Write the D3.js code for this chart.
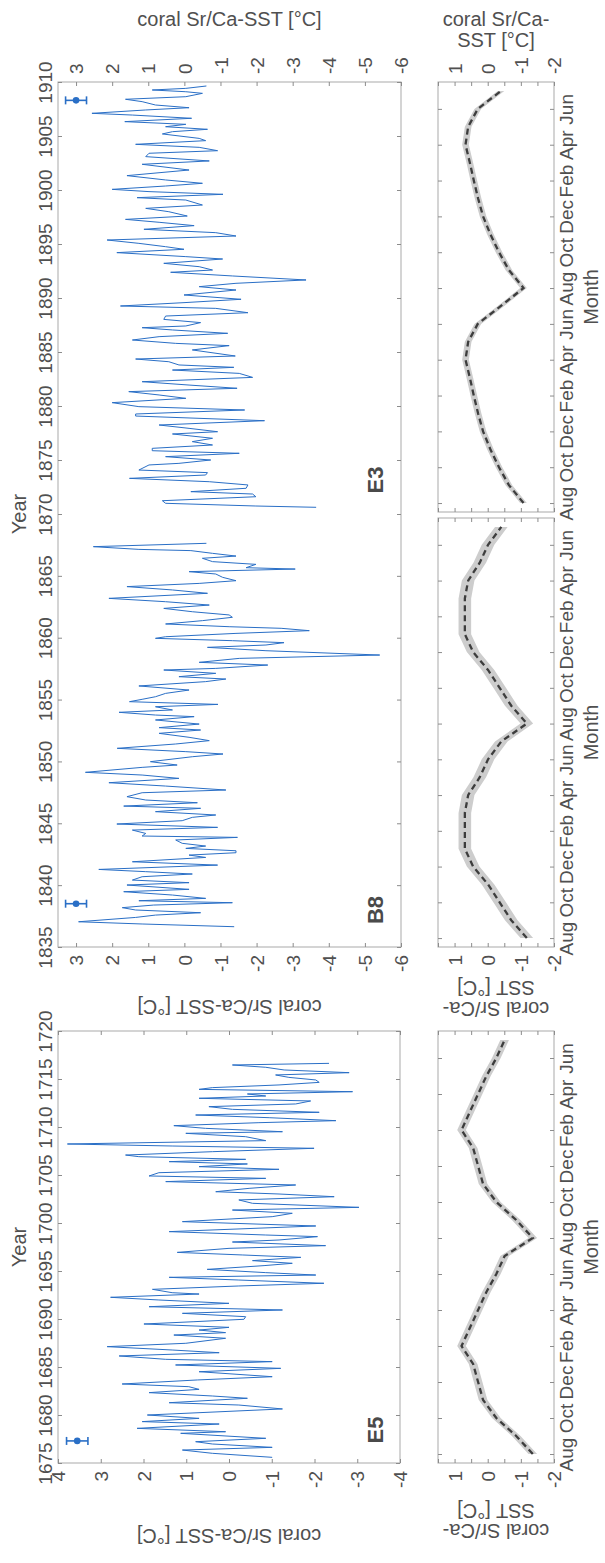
<!DOCTYPE html>
<html><head><meta charset="utf-8">
<script src="https://cdn.jsdelivr.net/npm/d3@7"></script>
<style>
body{margin:0;background:#fff;}
text{font-family:"Liberation Sans",Arial,sans-serif;font-size:19px;fill:#505050;}
</style></head><body>
<svg id="c" width="605" height="1563"></svg>
<script>
// ---------------- DATA ----------------
const e3Year = [1909.63,1909.41,1909.26,1909.10,1908.95,1908.64,1908.40,1908.18,1907.87,1907.62,
1907.41,1907.10,1906.94,1906.64,1906.33,1906.08,1905.86,1905.62,1905.40,1905.19,
1904.78,1904.57,1904.23,1903.95,1903.64,1903.40,1903.09,1902.69,1902.38,1901.85,
1901.33,1900.93,1900.62,1900.37,1900.06,1899.85,1899.60,1899.29,1899.07,1898.61,
1898.30,1897.99,1897.59,1897.28,1897.01,1896.70,1896.36,1896.05,1895.74,1895.37,
1895.06,1894.75,1894.51,1894.20,1893.83,1893.61,1893.21,1892.90,1892.59,1892.38,
1892.04,1891.67,1891.36,1891.05,1890.74,1890.28,1889.88,1889.57,1889.26,1889.04,
1888.64,1888.33,1888.02,1887.72,1887.41,1887.25,1887.04,1886.73,1886.42,1886.11,
1885.80,1885.59,1885.19,1884.63,1884.35,1884.10,1883.80,1883.58,1883.33,1883.02,
1882.65,1882.25,1881.94,1881.64,1881.33,1881.02,1880.71,1880.31,1879.94,1879.63,
1879.26,1879.07,1878.64,1878.24,1877.93,1877.62,1877.41,1877.01,1876.70,1876.39,
1876.08,1875.86,1875.62,1875.31,1875.00,1874.69,1874.54,1874.07,1873.83,1873.61,
1873.30,1872.99,1872.69,1872.38,1872.07,1871.85,1871.60,1871.23,1870.99,1870.74,
1870.62];
const e3SST = [-0.61,-0.04,0.89,-0.04,-0.50,-0.04,1.63,1.17,0.80,-0.13,
1.07,2.56,1.44,-0.20,1.65,-0.04,0.52,-0.64,0.33,0.61,
-0.41,-0.59,1.35,-0.41,-0.92,0.98,1.07,-0.69,1.17,-0.13,
1.59,0.52,-0.50,0.52,2.00,0.98,-1.07,1.31,-0.04,-0.50,
1.07,0.43,-0.08,1.63,0.70,-0.27,1.12,-0.87,-1.43,2.14,
1.26,0.52,0.01,1.87,-0.04,-1.06,0.57,-0.41,-0.78,0.38,
-1.33,-3.37,-1.43,-0.41,-1.43,0.01,-1.57,0.01,1.77,-0.87,
-1.76,0.52,0.57,-0.45,-0.04,1.17,0.33,-1.20,0.70,1.44,
0.24,-1.24,-0.22,-1.41,1.35,0.43,0.15,-1.37,0.33,-1.52,
-1.89,1.17,-0.13,-1.46,1.54,0.70,-0.04,2.00,1.26,-1.67,
1.35,1.35,-2.22,0.70,-0.13,-0.92,0.33,-0.78,-0.22,-0.78,
0.89,0.89,-1.52,0.52,-0.73,0.15,0.98,1.26,-0.64,-0.59,
1.52,-0.69,-1.76,-1.71,-0.18,-1.89,-1.98,0.61,0.52,-1.98,
-3.65];

const b8Year = [1867.63,1867.36,1867.14,1867.04,1866.82,1866.60,1866.42,1866.15,1865.93,1865.66,
1865.55,1865.34,1865.15,1864.88,1864.61,1864.39,1864.13,1863.86,1863.59,1863.18,
1862.91,1862.64,1862.37,1862.10,1861.84,1861.65,1861.38,1861.11,1860.89,1860.76,
1860.57,1860.35,1860.08,1859.95,1859.76,1859.60,1859.41,1859.22,1858.95,1858.60,
1858.33,1858.01,1857.79,1857.52,1857.39,1857.12,1856.85,1856.66,1856.45,1856.10,
1855.77,1855.50,1855.23,1855.02,1854.83,1854.61,1854.42,1854.16,1853.97,1853.75,
1853.62,1853.35,1853.02,1852.73,1852.54,1852.27,1851.95,1851.68,1851.41,1851.06,
1850.79,1850.60,1850.38,1849.98,1849.71,1849.52,1849.12,1848.90,1848.63,1848.28,
1848.01,1847.69,1847.47,1847.15,1846.88,1846.66,1846.39,1846.21,1845.94,1845.67,
1845.48,1845.21,1844.94,1844.67,1844.45,1844.18,1843.97,1843.86,1843.65,1843.38,
1843.16,1842.97,1842.78,1842.62,1842.43,1842.24,1841.89,1841.62,1841.27,1841.09,
1840.90,1840.68,1840.41,1840.20,1840.01,1839.66,1839.47,1839.20,1838.93,1838.74,
1838.58,1838.39,1838.18,1837.99,1837.77,1837.58,1837.39,1837.04,1836.86,1836.64];
const b8SST = [-0.61,2.52,1.26,-0.18,-0.78,-1.43,-0.50,-0.78,-1.98,-1.71,
-3.07,-0.13,-0.87,-1.06,-1.43,-0.41,1.59,0.33,-0.64,2.09,
0.52,-0.69,0.57,-0.22,-1.24,-1.33,-0.50,0.52,-1.24,-2.68,
-3.46,-1.43,0.52,0.80,-1.33,-2.76,-2.26,-0.64,-2.26,-5.41,
-1.52,-0.41,-2.31,-0.87,0.57,-0.87,0.15,-1.15,-0.59,1.26,
-0.13,0.52,0.80,1.17,1.52,-0.93,0.80,0.33,1.81,0.80,
-0.27,0.80,-0.41,0.70,-0.45,0.70,-0.13,-0.69,0.24,1.86,
-0.04,-1.07,-0.22,0.94,0.20,1.17,2.74,1.17,0.15,2.09,
0.52,-1.15,1.17,1.59,1.07,-0.36,1.68,-0.45,0.80,-0.87,
-0.22,0.06,1.87,-0.92,1.44,1.07,1.17,-1.47,0.24,0.06,
-0.59,-0.04,-1.43,-1.43,-0.13,-0.59,1.44,-0.92,2.37,1.07,
-0.22,1.17,1.44,-0.13,1.59,-0.13,1.68,0.33,-0.59,1.26,
-1.33,0.85,1.72,1.35,-0.45,0.80,1.35,2.93,1.17,-1.38];

const e5Year = [1716.63,1716.46,1716.22,1715.94,1715.66,1715.42,1715.17,1714.90,1714.65,1714.38,
1714.10,1713.92,1713.68,1713.44,1713.23,1712.99,1712.71,1712.40,1712.12,1711.84,
1711.53,1711.25,1710.97,1710.66,1710.45,1710.14,1709.86,1709.51,1709.34,1708.99,
1708.58,1708.23,1708.02,1707.78,1707.43,1707.08,1706.91,1706.63,1706.39,1706.15,
1705.87,1705.59,1705.24,1704.90,1704.65,1704.31,1703.96,1703.61,1703.26,1703.02,
1702.74,1702.40,1702.05,1701.63,1701.35,1701.01,1700.66,1700.14,1699.69,1699.10,
1698.75,1698.58,1698.23,1698.02,1697.64,1697.36,1696.94,1696.67,1696.42,1696.08,
1695.80,1695.56,1695.17,1694.83,1694.58,1694.34,1694.06,1693.72,1693.44,1693.09,
1692.74,1692.60,1692.26,1691.98,1691.63,1691.28,1690.94,1690.59,1690.24,1689.97,
1689.72,1689.48,1689.13,1688.85,1688.58,1688.33,1687.99,1687.47,1687.12,1686.77,
1686.49,1686.15,1685.80,1685.56,1685.21,1684.86,1684.51,1683.99,1683.65,1683.23,
1682.95,1682.67,1682.33,1681.98,1681.74,1681.28,1681.04,1680.63,1680.00,1679.65,
1679.31,1679.06,1678.61,1678.26,1678.09,1677.57,1677.22,1676.98,1676.63,1676.35,
1676.01,1675.59];
const e5SST = [-2.34,-0.08,-0.86,-1.29,-2.81,-1.09,-1.40,-2.03,-2.11,-1.17,
0.39,0.70,-2.89,-0.43,-0.86,0.70,-1.91,-1.56,0.47,-0.08,
-2.11,0.78,-0.94,-2.50,-0.70,1.29,0.55,-1.25,1.01,-0.39,
-0.86,3.78,1.33,-1.99,0.39,2.42,2.11,-0.39,1.40,-0.43,
0.70,-1.17,1.64,1.87,-0.86,1.48,-1.56,-0.47,0.31,-1.17,
-2.46,-0.23,-0.55,-3.04,-0.08,-1.48,-1.01,1.09,-2.03,1.40,
-0.86,-2.07,-1.17,-0.08,-2.26,0.00,1.21,-0.31,-1.68,-0.55,
-1.48,-0.82,0.51,-0.86,-2.03,1.40,-0.23,-2.22,-0.23,1.79,
1.33,0.70,2.77,1.64,0.00,1.87,-1.25,1.09,-0.39,-0.35,
0.82,1.99,0.00,0.70,0.08,1.29,0.08,1.01,2.85,1.33,
0.23,2.57,1.48,-1.01,1.25,-1.21,0.70,-1.01,0.74,2.50,
0.94,0.70,1.87,0.39,-0.43,1.40,-0.23,-1.25,1.91,0.70,
2.03,0.23,2.15,0.08,1.13,-0.86,0.78,0.39,-1.01,1.09,
0.39,-1.01];

// error bar markers (E3, B8, E5)
const errYear = [1908.3, 1838.5, 1677.3];
const errValue = [3.0, 3.0, 3.55];
const errHalf = [0.29, 0.29, 0.25];

// seasonal cycles (Aug ... Jul), shown for two cycles
const monthNames = ["Aug","Sep","Oct","Nov","Dec","Jan","Feb","Mar","Apr","May","Jun","Jul"];
const e3Season = [-1.08,-0.64,-0.34,-0.08,0.14,0.29,0.42,0.54,0.67,0.59,0.30,-0.40];
const b8Season = [-1.18,-0.71,-0.36,-0.01,0.44,0.69,0.69,0.69,0.59,0.24,-0.01,-0.41];
const e5Season = [-1.36,-0.86,-0.26,0.14,0.29,0.44,0.79,0.54,0.29,0.04,-0.26,-0.51];
const seasonErr = [0.10, 0.19, 0.13];

// tick values
const yearTicksE3 = [1870,1875,1880,1885,1890,1895,1900,1905,1910];
const yearTicksB8 = [1835,1840,1845,1850,1855,1860,1865];
const yearTicksE5 = [1675,1680,1685,1690,1695,1700,1705,1710,1715,1720];
const sstTicksMain = [3,2,1,0,-1,-2,-3,-4,-5,-6];
const sstTicksE5 = [4,3,2,1,0,-1,-2,-3,-4];
const sstTicksSeason = [1.5,1,0.5,0,-0.5,-1,-1.5,-2];
const monthTicks = [1,3,5,7,9,11,13,15,17,19,21,23];

// ---------------- DRAWING ----------------
const svg = d3.select("#c");
const LINE = "#2a6fc6";

function box(x0,x1,y0,y1){
  svg.append("rect").attr("x",x0).attr("y",y0).attr("width",x1-x0).attr("height",y1-y0)
    .attr("fill","none").attr("stroke","#a9a9a9").attr("stroke-width",1);
}
function clean(g){
  g.attr("font-size",null).attr("font-family",null);
  g.select(".domain").remove();
  g.selectAll(".tick line").attr("stroke","#8c8c8c");
  g.selectAll(".tick text").attr("fill",null);
  return g;
}
function yearAxes(scale, ticks, x0, x1){
  const gl = svg.append("g").attr("transform",`translate(${x0},0)`)
    .call(d3.axisLeft(scale).tickValues(ticks).tickSizeInner(-4).tickSizeOuter(0).tickFormat(d3.format("d")));
  clean(gl);
  gl.selectAll(".tick text").attr("x",0).attr("dy",0).attr("text-anchor","middle")
    .attr("transform","translate(-6,0) rotate(-90)");
  const gr = svg.append("g").attr("transform",`translate(${x1},0)`)
    .call(d3.axisRight(scale).tickValues(ticks).tickSizeInner(-4).tickSizeOuter(0).tickFormat(""));
  clean(gr);
}
function sideAxis(scale, ticks, x, fmt, side){
  const ax = side==="right" ? d3.axisRight(scale) : d3.axisLeft(scale);
  const g = svg.append("g").attr("transform",`translate(${x},0)`)
    .call(ax.tickValues(ticks).tickSizeInner(-4).tickSizeOuter(0).tickFormat(fmt));
  clean(g);
  g.selectAll(".tick text").attr("x",0).attr("dy",0).attr("text-anchor","middle")
    .attr("transform","translate(19,0) rotate(-90)");
}
function valueAxis(scale, ticks, y, side, fmt){
  const ax = side==="top" ? d3.axisTop(scale) : d3.axisBottom(scale);
  const g = svg.append("g").attr("transform",`translate(0,${y})`)
    .call(ax.tickValues(ticks).tickSizeInner(-4).tickSizeOuter(0).tickFormat(fmt || ""));
  clean(g);
  g.selectAll(".tick text").attr("x",0).attr("y",0).attr("dy","0.35em")
    .attr("text-anchor", side==="top" ? "start" : "end")
    .attr("transform", side==="top" ? "translate(0,-8) rotate(-90)" : "translate(0,8) rotate(-90)");
}
function label(txt, x, y, rot, opts={}){
  const t = svg.append("text").attr("transform",`translate(${x},${y}) rotate(${rot})`)
    .attr("text-anchor","middle").text(txt);
  if(opts.dy) t.attr("dy",opts.dy);
  if(opts.size) t.style("font-size",opts.size+"px");
  if(opts.bold) t.style("font-weight","bold");
  if(opts.fill) t.style("fill",opts.fill);
  return t;
}
const fmtInt = d => String(d);
const fmtSeason = d => Number.isInteger(d) ? String(d) : "";

// ---- time series: B8 + E3 ----
const xMain = d3.scaleLinear().domain([3.5,-6]).range([58,401]);
const yE3 = d3.scaleLinear().domain([1870,1910]).range([514,82]);
const yB8 = d3.scaleLinear().domain([1835,1870]).range([947,514]);
const xE5 = d3.scaleLinear().domain([4,-4]).range([58,400]);
const yE5 = d3.scaleLinear().domain([1675,1720]).range([1463,1031]);

box(58,401,82,947);
box(58,400,1031,1463);

yearAxes(yE3, yearTicksE3, 58, 401);
yearAxes(yB8, yearTicksB8, 58, 401);
yearAxes(yE5, yearTicksE5, 58, 400);
valueAxis(xMain, sstTicksMain, 82, "top", fmtInt);
valueAxis(xMain, sstTicksMain, 947, "bottom", fmtInt);
valueAxis(xE5, sstTicksE5, 1031, "top", null);
valueAxis(xE5, sstTicksE5, 1463, "bottom", fmtInt);

function tsLine(years, vals, xs, ys){
  const pts = years.map((y,i)=>({y, v: vals[i]}));
  svg.append("path").datum(pts)
    .attr("d", d3.line().x(d=>xs(d.v)).y(d=>ys(d.y)))
    .attr("fill","none").attr("stroke",LINE).attr("stroke-width",1).attr("stroke-linejoin","round");
}
tsLine(e3Year, e3SST, xMain, yE3);
tsLine(b8Year, b8SST, xMain, yB8);
tsLine(e5Year, e5SST, xE5, yE5);

function errMark(i, xs, ys){
  const cy = ys(errYear[i]);
  const g = svg.append("g");
  g.append("line").attr("x1",xs(errValue[i]+errHalf[i])).attr("x2",xs(errValue[i]-errHalf[i]))
    .attr("y1",cy).attr("y2",cy).attr("stroke",LINE).attr("stroke-width",1.6);
  [errValue[i]+errHalf[i], errValue[i]-errHalf[i]].forEach(v=>{
    g.append("line").attr("x1",xs(v)).attr("x2",xs(v)).attr("y1",cy-4).attr("y2",cy+4)
      .attr("stroke",LINE).attr("stroke-width",1.6);
  });
  g.append("circle").attr("cx",xs(errValue[i])).attr("cy",cy).attr("r",3.3).attr("fill",LINE);
}
errMark(0, xMain, yE3);
errMark(1, xMain, yB8);
errMark(2, xE5, yE5);

label("E3", 383, 480, -90, {size:22, bold:true, fill:"#4a4a4a"});
label("B8", 383, 910, -90, {size:22, bold:true, fill:"#4a4a4a"});
label("E5", 383, 1430, -90, {size:22, bold:true, fill:"#4a4a4a"});

label("Year", 26, 514, -90, {size:20});
label("Year", 26, 1247, -90, {size:20});
label("coral Sr/Ca-SST [°C]", 229.5, 26, 0, {size:20});
label("coral Sr/Ca-SST [°C]", 229.5, 1007, 180, {size:20, dy:"0.35em"});
label("coral Sr/Ca-SST [°C]", 229, 1536, 180, {size:20, dy:"0.35em"});

// ---- seasonal panels ----
const xS = d3.scaleLinear().domain([1.5,-2]).range([438,554]);
const seasonPanels = [
  {vals:e3Season, err:seasonErr[0], top:82, bottom:512, labelSide:"top"},
  {vals:b8Season, err:seasonErr[1], top:518, bottom:947, labelSide:"bottom"},
  {vals:e5Season, err:seasonErr[2], top:1031, bottom:1463, labelSide:"bottom"}
];
seasonPanels.forEach(p=>{
  const m = d3.scaleLinear().domain([0.5,24.5]).range([p.bottom,p.top]);
  const pts = p.vals.concat(p.vals).map((v,i)=>({m:i+1, v}));
  svg.append("path").datum(pts)
    .attr("d", d3.area().y(d=>m(d.m)).x0(d=>xS(d.v+p.err)).x1(d=>xS(d.v-p.err)))
    .attr("fill","#cdcdcd").attr("stroke","none");
  svg.append("path").datum(pts)
    .attr("d", d3.line().x(d=>xS(d.v)).y(d=>m(d.m)))
    .attr("fill","none").attr("stroke","#3d3d3d").attr("stroke-width",2.3)
    .attr("stroke-dasharray","6,4");
  box(438,554,p.top,p.bottom);
  sideAxis(m, monthTicks, 554, d=>monthNames[(d-1)%12], "right");
  sideAxis(m, monthTicks, 438, "", "left");
  valueAxis(xS, sstTicksSeason, p.top, "top", p.labelSide==="top" ? fmtSeason : null);
  valueAxis(xS, sstTicksSeason, p.bottom, "bottom", p.labelSide==="bottom" ? fmtSeason : null);
  label("Month", 598, (p.top+p.bottom)/2, -90, {size:20});
});

// seasonal y labels
label("coral Sr/Ca-", 496, 26, 0, {size:20});
label("SST [°C]", 496, 47, 0, {size:20});
label("SST [°C]", 496, 988, 180, {size:20, dy:"0.35em"});
label("coral Sr/Ca-", 496, 1009, 180, {size:20, dy:"0.35em"});
label("SST [°C]", 496, 1511, 180, {size:20, dy:"0.35em"});
label("coral Sr/Ca-", 496, 1531, 180, {size:20, dy:"0.35em"});
</script>
</body></html>
